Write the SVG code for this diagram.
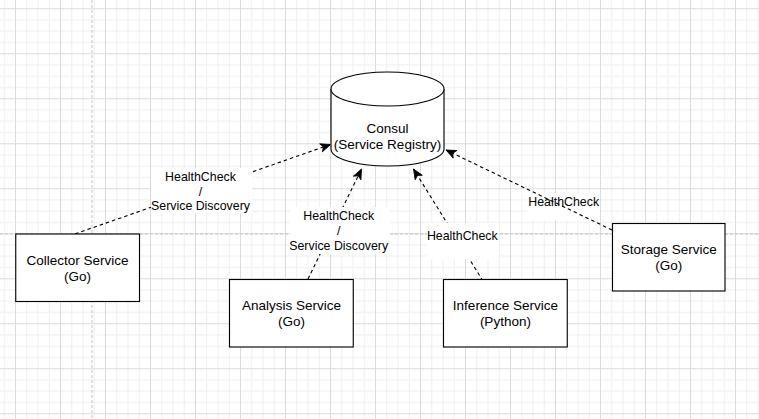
<svg xmlns="http://www.w3.org/2000/svg" width="759" height="419" viewBox="0 0 759 419">
<defs>
<style>
.node{fill:#ffffff;stroke:#000000;stroke-width:1.125}
.nt{font-family:"Liberation Sans",Arial,Helvetica,sans-serif;font-size:13.5px;fill:#000000;text-anchor:middle}
.lt{font-family:"Liberation Sans",Arial,Helvetica,sans-serif;font-size:12.375px;fill:#000000;text-anchor:middle}
.edge{fill:none;stroke:#000000;stroke-width:1.125;stroke-dasharray:3.5 3;marker-end:url(#arrow)}
.lbg{fill:#ffffff;stroke:none}
.page{stroke:#c4c4c4;stroke-width:1;stroke-dasharray:3 2;fill:none}
</style>
<pattern id="grid" patternUnits="userSpaceOnUse" x="15" y="8.25" width="45" height="45">
<rect x="11.25" y="0" width="1" height="45" fill="#f0f0f0"/>
<rect x="22.5" y="0" width="1" height="45" fill="#f0f0f0"/>
<rect x="33.75" y="0" width="1" height="45" fill="#f0f0f0"/>
<rect x="0" y="11.25" width="45" height="1" fill="#f0f0f0"/>
<rect x="0" y="22.5" width="45" height="1" fill="#f0f0f0"/>
<rect x="0" y="33.75" width="45" height="1" fill="#f0f0f0"/>
<rect x="0" y="0" width="1" height="45" fill="#dcdcdc"/>
<rect x="0" y="0" width="45" height="1" fill="#dcdcdc"/>
</pattern>
<marker id="arrow" markerUnits="userSpaceOnUse" viewBox="-11 -5 12 10" markerWidth="12" markerHeight="10" refX="0" refY="0" orient="auto">
<path d="M0,0 L-10,-4.2 L-7.5,0 L-10,4.2 Z" fill="#000000" stroke="#000000" stroke-width="0.8"/>
</marker>
</defs>
<rect x="0" y="0" width="759" height="419" fill="#ffffff"/>
<rect x="0" y="0" width="759" height="419" fill="url(#grid)"/>
<g id="page-breaks">
<line class="page" x1="92" y1="0" x2="92" y2="419"/>
<line class="page" x1="0" y1="234" x2="759" y2="234"/>
</g>
<g id="connectors">
<rect class="lbg" x="527" y="193" width="73" height="27"/>
<path id="e-collector" class="edge" d="M69,236 L330.5,144.5"/>
<path id="e-analysis" class="edge" d="M308,279 L361.5,169"/>
<path id="e-inference" class="edge" d="M483,281 L413.5,169"/>
<path id="e-storage" class="edge" d="M612,230 L446,150"/>
<g id="label-collector">
<rect class="lbg" x="151" y="168" width="101" height="45"/>
<text class="lt" x="200.5" y="180.8">HealthCheck</text>
<text class="lt" x="200.5" y="195.6">/</text>
<text class="lt" x="200.5" y="210.4">Service Discovery</text>
</g>
<g id="label-analysis">
<rect class="lbg" x="290" y="207" width="100" height="47"/>
<text class="lt" x="338.7" y="220.3">HealthCheck</text>
<text class="lt" x="338.7" y="235.1">/</text>
<text class="lt" x="338.7" y="250">Service Discovery</text>
</g>
<g id="label-inference">
<rect class="lbg" x="427" y="223" width="72" height="36"/>
<text class="lt" x="462.3" y="240">HealthCheck</text>
</g>
<g id="label-storage">
<text class="lt" x="563.7" y="205.7">HealthCheck</text>
</g>
</g>
<g id="consul">
<path class="node" d="M331,89 A56.5,17 0 0 1 444,89 L444,149 A56.5,17 0 0 1 331,149 Z"/>
<path class="node" fill="none" d="M331,89 A56.5,17 0 0 0 444,89"/>
<text class="nt" x="387.5" y="132.7">Consul</text>
<text class="nt" x="387.5" y="148.7">(Service Registry)</text>
</g>
<g id="collector">
<rect class="node" x="15.75" y="234" width="123.75" height="67.5"/>
<text class="nt" x="77.6" y="264.7">Collector Service</text>
<text class="nt" x="77.6" y="280.9">(Go)</text>
</g>
<g id="analysis">
<rect class="node" x="229.5" y="279.5" width="123.75" height="67.5"/>
<text class="nt" x="291.4" y="309.9">Analysis Service</text>
<text class="nt" x="291.4" y="326.1">(Go)</text>
</g>
<g id="inference">
<rect class="node" x="443.5" y="279.5" width="123.75" height="67.5"/>
<text class="nt" x="505.4" y="309.9">Inference Service</text>
<text class="nt" x="505.4" y="326.1">(Python)</text>
</g>
<g id="storage">
<rect class="node" x="612.5" y="223.5" width="112.5" height="67.5"/>
<text class="nt" x="668.75" y="253.9">Storage Service</text>
<text class="nt" x="668.75" y="270.1">(Go)</text>
</g>
</svg>
